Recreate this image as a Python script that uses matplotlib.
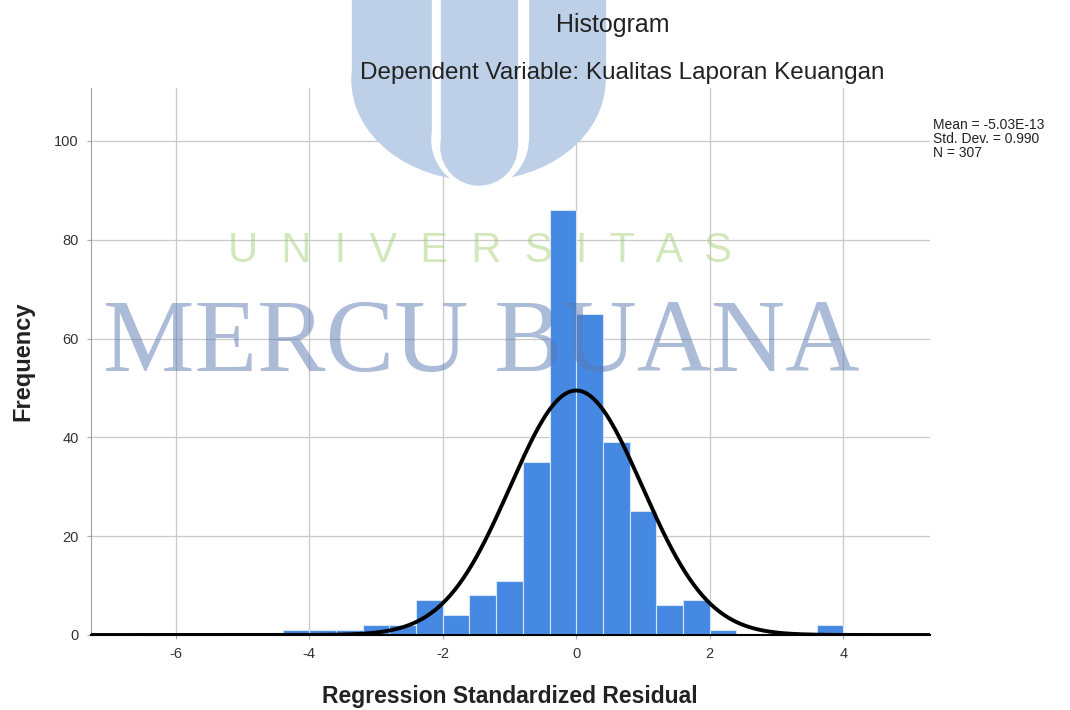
import numpy as np
import matplotlib.pyplot as plt
from matplotlib.patches import Rectangle, Ellipse

plt.rcParams['font.family'] = ['Liberation Sans', 'DejaVu Sans']
plt.rcParams['axes.unicode_minus'] = False

# histogram data (bin left edges, width 0.4)
bin_left = [-4.4, -4.0, -3.6, -3.2, -2.8, -2.4, -2.0, -1.6, -1.2, -0.8, -0.4,
            0.0, 0.4, 0.8, 1.2, 1.6, 2.0, 2.4, 2.8, 3.2, 3.6]
counts = [1, 1, 1, 2, 2, 7, 4, 8, 11, 35, 86,
          65, 39, 25, 6, 7, 1, 0, 0, 0, 2]
bin_width = 0.4

# summary statistics shown on the chart
mean = -5.03e-13
std_dev = 0.990
n_obs = 307

xticks = [-6, -4, -2, 0, 2, 4]
yticks = [0, 20, 40, 60, 80, 100]

W, H = 1070, 710
fig = plt.figure(figsize=(W / 100, H / 100), dpi=100)


def fx(px):
    return px / W


def fy(py):
    return 1 - py / H


# watermark logo (behind the chart)
logo = '#bdd0e8'
fig.patches.append(Rectangle((fx(352), fy(80)), fx(605) - fx(352), fy(0) - fy(80),
                             transform=fig.transFigure, color=logo, zorder=0))
fig.patches.append(Ellipse((fx(478.5), fy(80)), 253 / W, 200 / H,
                           transform=fig.transFigure, color=logo, zorder=0))
fig.patches.append(Rectangle((fx(432), fy(140)), 96 / W, 140 / H,
                             transform=fig.transFigure, color='white', zorder=0.1))
fig.patches.append(Ellipse((fx(480), fy(140)), 96 / W, 96 / H,
                           transform=fig.transFigure, color='white', zorder=0.1))
fig.patches.append(Rectangle((fx(441), fy(147)), 76 / W, 147 / H,
                             transform=fig.transFigure, color=logo, zorder=0.2))
fig.patches.append(Ellipse((fx(479), fy(147)), 76 / W, 76 / H,
                           transform=fig.transFigure, color=logo, zorder=0.2))

ax = fig.add_axes([fx(91), fy(635), (930 - 91) / W, (635 - 88) / H])
ax.set_facecolor('none')

ax.bar(bin_left, counts, width=bin_width, align='edge', color='#4589e3',
       edgecolor='#d6e4f6', linewidth=0.8, zorder=2)

xs = np.linspace(-7.3, 5.35, 600)
curve = n_obs * bin_width * np.exp(-0.5 * ((xs - mean) / std_dev) ** 2) / (std_dev * np.sqrt(2 * np.pi))
ax.plot(xs, curve, color='black', linewidth=2.8, zorder=3, solid_capstyle='butt')

ax.set_xlim(-7.27, 5.3)
ax.set_ylim(0, 110.7)
ax.set_xticks(xticks)
ax.set_yticks(yticks)
ax.grid(True, color='#c9c9c9', linewidth=0.9, zorder=0)
ax.set_axisbelow(True)
ax.tick_params(length=3, color='#aaaaaa', labelsize=10.5, labelcolor='#333333', pad=6)
for s in ['top', 'right']:
    ax.spines[s].set_visible(False)
ax.spines['left'].set_color('#a0a0a0')
ax.spines['bottom'].set_color('black')
ax.spines['bottom'].set_linewidth(1.5)

ax.set_ylabel('Frequency', fontsize=17, fontweight='bold', color='#222222', labelpad=14)
fig.text(fx(510), fy(696), 'Regression Standardized Residual', fontsize=16.5,
         fontweight='bold', color='#222222', ha='center', va='center')

fig.text(fx(613), fy(25), 'Histogram', fontsize=18, color='#222222',
         ha='center', va='center')
fig.text(fx(622), fy(73), 'Dependent Variable: Kualitas Laporan Keuangan', fontsize=17.5,
         color='#222222', ha='center', va='center')
fig.text(fx(933), fy(118), 'Mean = -5.03E-13\nStd. Dev. = 0.990\nN = 307', fontsize=10,
         color='#222222', ha='left', va='top', linespacing=1.0)

# watermark text on top
fig.text(fx(480), fy(262), 'U  N  I  V  E  R  S  I  T  A  S', fontsize=30,
         color='#a9d07a', alpha=0.5, ha='center', va='baseline', zorder=10)
fig.text(fx(481), fy(371), 'MERCU BUANA', fontsize=74, family='Liberation Serif',
         color='#5a78b0', alpha=0.5, ha='center', va='baseline', zorder=10)

fig.savefig('out.png', dpi=100)
